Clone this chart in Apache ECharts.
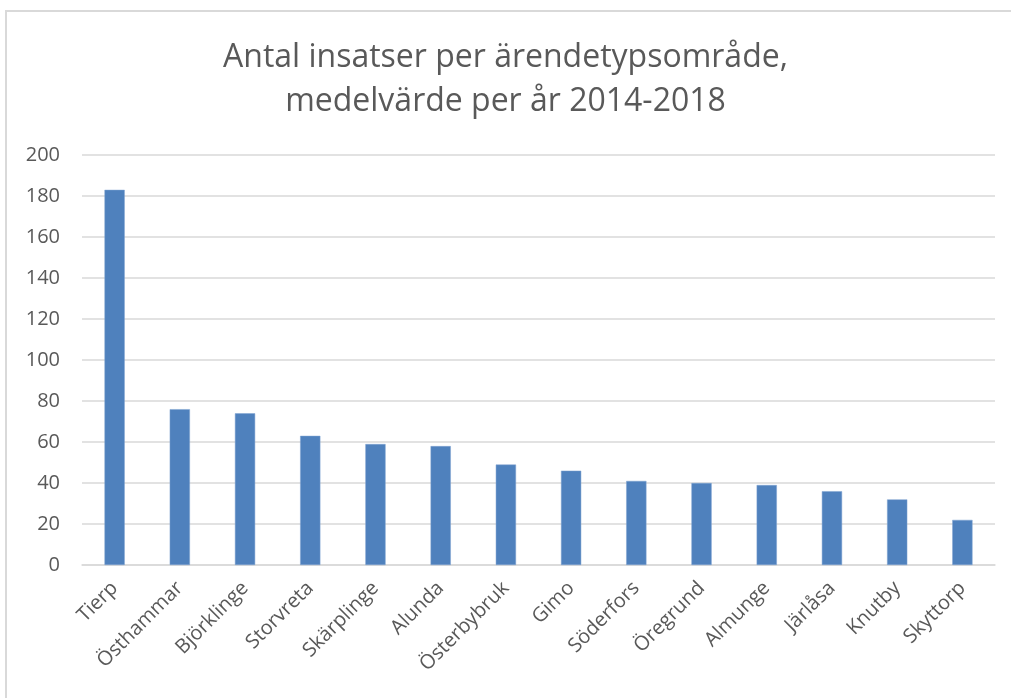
<!DOCTYPE html>
<html>
<head>
<meta charset="utf-8">
<script src="https://cdn.jsdelivr.net/npm/echarts@6/dist/echarts.min.js"></script>
<style>
html,body{margin:0;padding:0;background:#fff;}
#frame{position:absolute;left:5px;top:10px;width:1006px;height:688px;border-left:2px solid #d9d9d9;border-top:2px solid #d9d9d9;box-sizing:border-box;}
#chart{position:absolute;left:0;top:0;width:1011px;height:698px;}
</style>
</head>
<body>
<div id="frame"></div>
<div id="chart"></div>
<script>
const titleText = 'Antal insatser per ärendetypsområde,\nmedelvärde per år 2014-2018';
const categories = ['Tierp','Östhammar','Björklinge','Storvreta','Skärplinge','Alunda','Österbybruk','Gimo','Söderfors','Öregrund','Almunge','Järlåsa','Knutby','Skyttorp'];
const values = [183, 76, 74, 63, 59, 58, 49, 46, 41, 40, 39, 36, 32, 22];
const yTicks = {min: 0, max: 200, interval: 20};

const chart = echarts.init(document.getElementById('chart'), null, {renderer: 'canvas'});
chart.setOption({
  backgroundColor: 'transparent',
  animation: false,
  title: {
    text: titleText,
    left: 'center',
    top: 31,
    textStyle: {
      fontFamily: 'Open Sans',
      fontSize: 32,
      fontWeight: 'normal',
      color: '#595959',
      lineHeight: 44
    }
  },
  grid: {left: 82, right: 16, top: 155, bottom: 133, containLabel: false},
  xAxis: {
    type: 'category',
    data: categories,
    axisLine: {show: true, lineStyle: {color: '#d9d9d9', width: 1.5}},
    axisTick: {show: false},
    axisLabel: {
      interval: 0,
      rotate: 45,
      margin: 20,
      fontFamily: 'Open Sans',
      fontSize: 20,
      color: '#595959'
    }
  },
  yAxis: {
    type: 'value',
    min: yTicks.min,
    max: yTicks.max,
    interval: yTicks.interval,
    axisLine: {show: false},
    axisTick: {show: false},
    splitLine: {lineStyle: {color: '#d9d9d9', width: 1.5}},
    axisLabel: {
      margin: 22,
      fontFamily: 'Open Sans',
      fontSize: 20,
      color: '#595959'
    }
  },
  series: [{
    type: 'bar',
    data: values,
    barWidth: '31%',
    itemStyle: {color: '#4f81bd', borderColor: '#7ea3d1', borderWidth: 0.5}
  }]
});
</script>
</body>
</html>
